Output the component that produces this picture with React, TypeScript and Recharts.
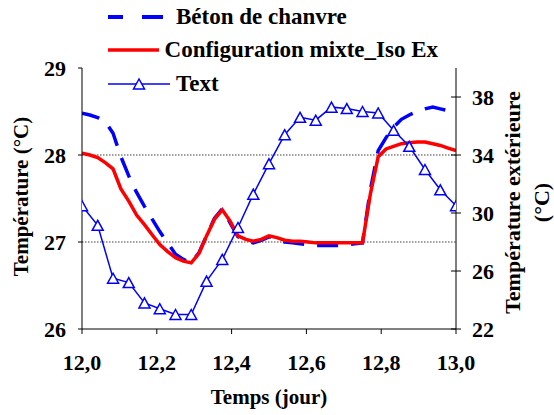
import { Legend, Line, LineChart, ReferenceLine, XAxis, YAxis } from "recharts";

const FONT = "'Liberation Serif', 'DejaVu Serif Condensed', 'DejaVu Serif', serif";

// time in days (half-hourly for the simulations, hourly for the outdoor temperature)
const simTimes = [
  12.000, 12.021, 12.042, 12.063, 12.083, 12.104, 12.125, 12.146, 12.167, 12.188,
  12.208, 12.229, 12.250, 12.271, 12.292, 12.313, 12.333, 12.354, 12.375, 12.396,
  12.417, 12.438, 12.458, 12.479, 12.500, 12.521, 12.542, 12.563, 12.583, 12.604,
  12.625, 12.646, 12.667, 12.688, 12.708, 12.729, 12.750, 12.771, 12.792, 12.813,
  12.833, 12.854, 12.875, 12.896, 12.917, 12.938, 12.958, 12.979, 13.000,
];

const betonChanvre = [
  28.48, 28.46, 28.43, 28.38, 28.25, 27.98, 27.76, 27.57, 27.41, 27.26,
  27.12, 26.99, 26.86, 26.8, 26.76, 26.88, 27.07, 27.27, 27.38, 27.22,
  27.06, 27.01, 26.99, 27.02, 27.06, 27.03, 27.0, 26.99, 26.98, 26.97,
  26.96, 26.96, 26.96, 26.96, 26.97, 26.98, 26.99, 27.6, 28.05, 28.2,
  28.32, 28.41, 28.46, 28.5, 28.53, 28.55, 28.53, 28.51, 28.5,
];

const configMixte = [
  28.02, 28.0, 27.97, 27.91, 27.84, 27.61, 27.47, 27.31, 27.2, 27.08,
  26.97, 26.89, 26.82, 26.78, 26.76, 26.87, 27.07, 27.26, 27.37, 27.24,
  27.07, 27.03, 27.01, 27.03, 27.07, 27.05, 27.02, 27.01, 27.01, 27.0,
  26.99, 26.99, 26.99, 26.99, 26.99, 26.99, 26.99, 27.55, 27.98, 28.07,
  28.1, 28.13, 28.14, 28.15, 28.15, 28.13, 28.11, 28.08, 28.05,
];

const textTimes = [
  12.000, 12.042, 12.083, 12.125, 12.167, 12.208, 12.250, 12.292, 12.333, 12.375,
  12.417, 12.458, 12.500, 12.542, 12.583, 12.625, 12.667, 12.708, 12.750, 12.792,
  12.833, 12.875, 12.917, 12.958, 13.000,
];

const textValues = [
  30.5, 29.15, 25.5, 25.2, 23.8, 23.4, 23.0, 23.0, 25.3, 26.8,
  29.0, 31.3, 33.4, 35.4, 36.6, 36.4, 37.3, 37.2, 37.0, 36.9,
  35.7, 34.6, 33.0, 31.6, 30.5,
];

const xTicks = [12, 12.2, 12.4, 12.6, 12.8, 13];
const leftTicks = [26, 27, 28, 29];
const rightTicks = [22, 26, 30, 34, 38];
const gridValues = [27, 28];

const simData = simTimes.map((t, i) => ({ t, beton: betonChanvre[i], mixte: configMixte[i] }));
const textData = textTimes.map((t, i) => ({ t, text: textValues[i] }));

function Triangle(props: any) {
  const { cx, cy } = props;
  if (cx == null || cy == null) return null;
  return (
    <polygon
      points={`${cx},${cy - 5} ${cx - 5.5},${cy + 5} ${cx + 5.5},${cy + 5}`}
      fill="#fff"
      stroke="#0000ff"
      strokeWidth={1.5}
    />
  );
}

function RightTick(props: any) {
  const { x, y, payload } = props;
  return (
    <g>
      <line x1={x - 5} x2={x + 5} y1={y} y2={y} stroke="#000" />
      <text x={x + 16} y={y} dy="0.36em" fontSize={22} fontWeight="bold" fontFamily={FONT} fill="#000">
        {payload.value}
      </text>
    </g>
  );
}

function renderLegend() {
  const row = { height: 33.5, display: "flex", alignItems: "center" } as const;
  const label = { marginLeft: 6, fontSize: 23, fontWeight: "bold", fontFamily: FONT, color: "#000", whiteSpace: "nowrap" } as const;
  return (
    <div>
      <div style={row}>
        <svg width={62} height={10}>
          <line x1={0} x2={15} y1={5} y2={5} stroke="#0000ff" strokeWidth={4} />
          <line x1={34} x2={55} y1={5} y2={5} stroke="#0000ff" strokeWidth={4} />
        </svg>
        <span style={label}>Béton de chanvre</span>
      </div>
      <div style={row}>
        <svg width={62} height={10}>
          <line x1={0} x2={62} y1={5} y2={5} stroke="#ff0000" strokeWidth={3.5} />
        </svg>
        <span style={label}>Configuration mixte_Iso Ex</span>
      </div>
      <div style={row}>
        <svg width={62} height={14}>
          <line x1={0} x2={62} y1={7} y2={7} stroke="#0000ff" strokeWidth={1.5} />
          <Triangle cx={31} cy={7} />
        </svg>
        <span style={label}>Text</span>
      </div>
    </div>
  );
}

export default function App() {
  return (
    <div style={{ position: "absolute", left: 0, top: 0, width: 554, height: 415, background: "#fff" }}>
      <LineChart width={554} height={415} margin={{ top: 68, right: 38, bottom: 36, left: 22 }}>
        <XAxis
          dataKey="t"
          type="number"
          domain={[12, 13]}
          ticks={xTicks}
          allowDataOverflow
          tickFormatter={(v: number) => v.toFixed(1).replace(".", ",")}
          tickSize={5}
          tickMargin={20}
          height={50}
          stroke="#000"
          tick={{ fill: "#000", fontSize: 22, fontWeight: "bold", fontFamily: FONT }}
          label={{
            content: (p: any) => (
              <text
                x={p.viewBox.x + p.viewBox.width / 2}
                y={p.viewBox.y + 75}
                textAnchor="middle"
                fontSize={21}
                fontWeight="bold"
                fontFamily={FONT}
                fill="#000"
              >
                Temps (jour)
              </text>
            ),
          }}
        />
        <YAxis
          yAxisId="left"
          domain={[26, 29]}
          ticks={leftTicks}
          width={60}
          tickSize={4}
          tickMargin={12}
          stroke="#000"
          tick={{ fill: "#000", fontSize: 22, fontWeight: "bold", fontFamily: FONT }}
          label={{
            content: (p: any) => {
              const x = p.viewBox.x + 6;
              const y = p.viewBox.y + p.viewBox.height / 2 - 2;
              return (
                <text
                  x={x}
                  y={y}
                  transform={`rotate(-90, ${x}, ${y})`}
                  textAnchor="middle"
                  fontSize={21}
                  fontWeight="bold"
                  fontFamily={FONT}
                  fill="#000"
                >
                  Température (°C)
                </text>
              );
            },
          }}
        />
        <YAxis
          yAxisId="right"
          orientation="right"
          domain={[22, 40]}
          ticks={rightTicks}
          width={60}
          tickLine={false}
          tickSize={0}
          tickMargin={0}
          stroke="#000"
          tick={<RightTick />}
          label={{
            content: (p: any) => {
              const x1 = p.viewBox.x + 64;
              const x2 = p.viewBox.x + 93;
              const y = p.viewBox.y + p.viewBox.height / 2 + 4;
              return (
                <g fontSize={22} fontWeight="bold" fontFamily={FONT} fill="#000">
                  <text x={x1} y={y} transform={`rotate(-90, ${x1}, ${y})`} textAnchor="middle">
                    Température extérieure
                  </text>
                  <text x={x2} y={y} transform={`rotate(-90, ${x2}, ${y})`} textAnchor="middle">
                    (°C)
                  </text>
                </g>
              );
            },
          }}
        />
        {gridValues.map((v) => (
          <ReferenceLine key={v} yAxisId="left" y={v} stroke="#808080" strokeWidth={1.5} strokeDasharray="1.5 1.5" />
        ))}
        <Legend
          layout="vertical"
          align="center"
          verticalAlign="middle"
          content={renderLegend}
          wrapperStyle={{ top: 0, left: 108, width: 330 }}
        />
        <Line
          yAxisId="left"
          data={simData}
          dataKey="beton"
          name="Béton de chanvre"
          type="linear"
          stroke="#0000ff"
          strokeWidth={3.5}
          strokeDasharray="21 13"
          strokeDashoffset={3}
          dot={false}
          activeDot={false}
          isAnimationActive={false}
        />
        <Line
          yAxisId="left"
          data={simData}
          dataKey="mixte"
          name="Configuration mixte_Iso Ex"
          type="linear"
          stroke="#ff0000"
          strokeWidth={3.5}
          dot={false}
          activeDot={false}
          isAnimationActive={false}
        />
        <Line
          yAxisId="right"
          data={textData}
          dataKey="text"
          name="Text"
          type="linear"
          stroke="#0000ff"
          strokeWidth={1.5}
          dot={<Triangle />}
          activeDot={false}
          isAnimationActive={false}
        />
      </LineChart>
    </div>
  );
}
